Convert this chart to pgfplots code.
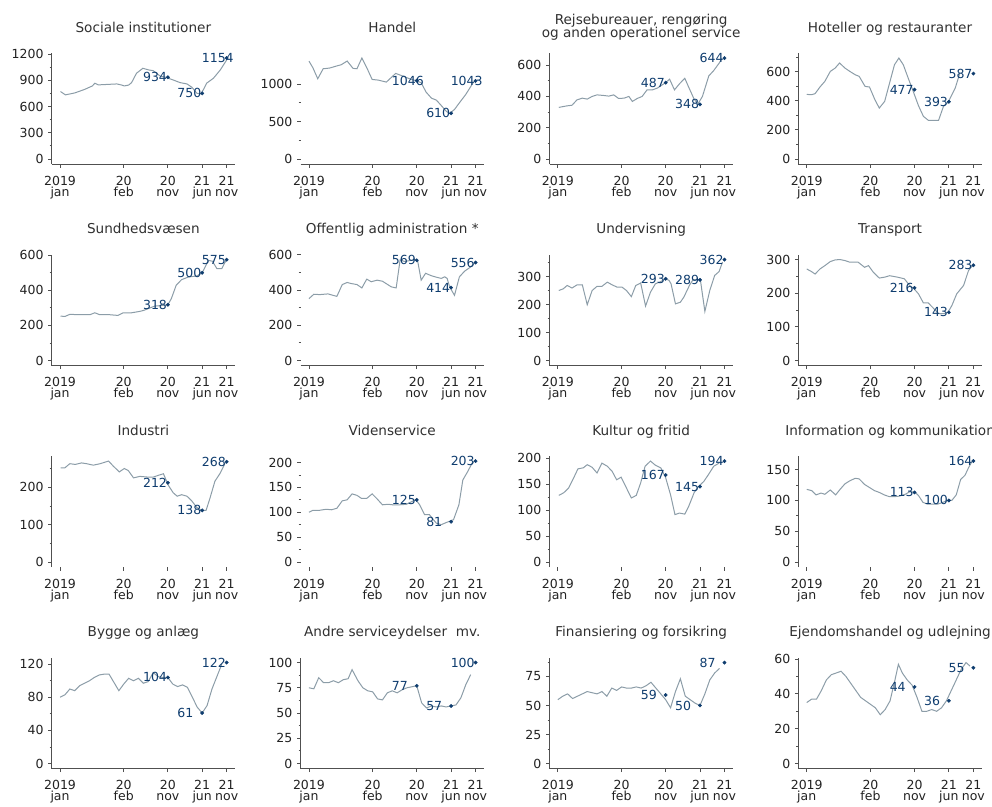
\documentclass[border=0pt]{standalone}
\usepackage{pgfplots}
\pgfplotsset{compat=1.18}
\usepackage{fontspec}
\setmainfont{DejaVu Sans}
\definecolor{linec}{HTML}{8C9DA8}
\definecolor{navy}{HTML}{0E3C6E}
\definecolor{spine}{HTML}{505050}
\definecolor{tickc}{HTML}{222222}
\definecolor{titlec}{HTML}{303030}
\newcommand\tickfont{\fontsize{12.5}{10.8}\selectfont\lineskiplimit=-20pt}
\newcommand\titlefont{\fontsize{13.6}{11}\selectfont\lineskiplimit=-20pt}
\newcommand\annfont{\fontsize{12.5}{14}\selectfont}
\pgfplotsset{
  panel/.style={
    scale only axis, width=183.3pt, height=111pt, anchor=south west,
    xmin=-1.7, xmax=35.7,
    axis x line*=bottom, axis y line*=left,
    axis line style={spine, line width=0.8pt, -},
    xtick={0,13,22,29,34},
    xticklabels={2019\\jan,20\\feb,20\\nov,21\\jun,21\\nov},
    xticklabel style={align=center, font=\tickfont, text=tickc, inner sep=0pt, yshift=-8.5pt},
    yticklabel style={font=\tickfont, text=tickc, inner sep=0pt, xshift=-4.5pt},
    tick align=outside, major tick length=3.5pt, minor tick length=2pt,
    tick style={spine, line width=0.8pt},
    /pgf/number format/assume math mode=true,
    /pgf/number format/1000 sep={},
    clip=false,
  },
  noleft/.style={y axis line style={draw=none}},
  nobottom/.style={x axis line style={draw=none}},
  dataline/.style={linec, line width=1pt},
  marks/.style={only marks, mark=*, mark size=1.7pt, navy,
    point meta=explicit symbolic, nodes near coords,
    every node near coord/.append style={anchor=west, xshift=-25pt, inner sep=0pt, font=\annfont, text=navy}},
}
\newcommand\ptitle[1]{\node[anchor=base, inner sep=0pt, font=\titlefont, text=titlec, yshift=21pt] at (rel axis cs:0.5,1) {#1};}
\begin{document}
\begin{tikzpicture}
\useasboundingbox (0,0) rectangle (992pt,-806pt);
% Row 1
\begin{axis}[panel, at={(51.7pt,-164pt)}, ymin=-57.7, ymax=1211.7, ytick={0,300,600,900,1200}, minor ytick={150,450,750,1050}]
\addplot[dataline] coordinates {(0.1,771)(1.1,733)(3,755)(5,795)(6.6,835)(7.1,866)(7.8,847)(9.5,852)(11.6,858)(12.6,845)(13.1,835)(14.0,845)(14.6,873)(15.6,980)(16.9,1037)(18.1,1018)(19.0,1010)(20.4,949)(21.5,935)(23.1,903)(24.5,873)(25.9,858)(26.9,820)(27.9,752)(28.7,745)(29.3,797)(29.9,866)(31.3,923)(32.7,1018)(34.0,1132)};
\addplot[marks] coordinates {(22,934)[934] (29,750)[750] (34,1154)[1154]};
\ptitle{Sociale institutioner}
\end{axis}
\begin{axis}[panel, noleft, at={(300.6pt,-164pt)}, ymin=-67.4, ymax=1415.4, ytick={0,500,1000}, minor ytick={250,750}]
\addplot[dataline] coordinates {(0,1308)(0.8,1219)(1.8,1071)(2.9,1205)(4.2,1214)(5.6,1241)(6.6,1259)(7.8,1308)(9,1210)(9.8,1205)(10.8,1348)(11.8,1219)(12.9,1062)(14.1,1054)(15.8,1027)(17.7,1143)(18.8,1116)(20.9,1062)(21.9,1046)(22.9,1018)(23.9,893)(25,812)(26,786)(27,714)(28,638)(28.7,607)(29.7,661)(30.7,750)(32,862)(33.5,1018)(33.9,1043)};
\addplot[marks] coordinates {(22,1046)[1046] (29,610)[610] (34,1043)[1043]};
\ptitle{Handel}
\end{axis}
\begin{axis}[panel, at={(549.5pt,-164pt)}, ymin=-32.2, ymax=676.2, ytick={0,200,400,600}, minor ytick={100,300,500}]
\addplot[dataline] coordinates {(0.2,329)(1.2,335)(1.9,339)(2.9,343)(3.9,377)(5,388)(6,382)(7,399)(8,409)(9.4,405)(10.4,401)(11.4,409)(12.4,386)(13.5,388)(14.5,399)(15.2,367)(16.2,386)(17.2,399)(18.2,441)(19.3,441)(20.3,452)(21.3,473)(22,487)(22.8,509)(23.8,441)(24.8,479)(25.9,515)(26.7,458)(27.8,382)(28.6,352)(29.5,399)(30.8,530)(31.8,564)(32.9,611)(33.5,642)};
\addplot[marks] coordinates {(22,487)[487] (29,348)[348] (34,644)[644]};
\node[anchor=base, inner sep=0pt, font=\titlefont, text=titlec, yshift=28.5pt] at (rel axis cs:0.5,1) {Rejsebureauer, rengøring};
\node[anchor=base, inner sep=0pt, font=\titlefont, text=titlec, yshift=15.5pt] at (rel axis cs:0.5,1) {og anden operationel service};
\end{axis}
\begin{axis}[panel, at={(798.4pt,-164pt)}, ymin=-34.7, ymax=728.7, ytick={0,200,400,600}, minor ytick={100,300,500,700}]
\addplot[dataline] coordinates {(0,444)(1,442)(1.7,449)(2.7,495)(3.7,534)(4.8,602)(5.8,625)(6.7,660)(7.8,625)(8.8,602)(9.9,579)(10.7,568)(11.9,499)(12.8,495)(13.9,408)(14.8,350)(15.9,396)(16.9,522)(17.9,648)(18.8,694)(19.7,648)(20.7,556)(21.8,458)(22.8,366)(23.8,293)(24.8,266)(25.9,266)(26.9,266)(27.9,362)(28.9,393)(30.3,488)(31.2,586)};
\addplot[marks] coordinates {(22,477)[477] (29,393)[393] (34,587)[587]};
\ptitle{Hoteller og restauranter}
\end{axis}
% Row 2
\begin{axis}[panel, at={(51.7pt,-365.5pt)}, ymin=-28.8, ymax=604.4, ytick={0,200,400,600}, minor ytick={100,300,500}]
\addplot[dataline] coordinates {(0.1,253)(1,251)(2,263)(4,261)(6.1,261)(7.1,272)(8.1,261)(10.1,261)(11.8,257)(12.9,272)(14.6,272)(16.3,280)(17.1,286)(19.3,310)(21,314)(22,318)(22.7,352)(23.7,429)(24.8,461)(26.2,476)(27.9,482)(29,500)(29.6,533)(30.3,571)(31.1,566)(32,524)(33,524)(33.5,552)(34,575)};
\addplot[marks] coordinates {(22,318)[318] (29,500)[500] (34,575)[575]};
\ptitle{Sundhedsvæsen}
\end{axis}
\begin{axis}[panel, noleft, at={(300.6pt,-365.5pt)}, ymin=-28.6, ymax=601.7, ytick={0,200,400,600}, minor ytick={100,300,500}]
\addplot[dataline] coordinates {(0,351)(1,376)(2.2,374)(3.9,378)(4.9,370)(5.7,364)(6.8,431)(7.8,443)(8.6,437)(9.8,431)(10.8,412)(11.8,462)(12.7,447)(13.9,456)(15,450)(16.8,418)(17.8,412)(18.6,571)(19.5,562)(21.8,573)(22.2,562)(22.9,456)(23.8,495)(25,481)(26,473)(27,466)(27.7,475)(28.2,466)(28.7,418)(29.7,370)(30.7,475)(31.8,508)(32.8,527)(33.9,556)};
\addplot[marks] coordinates {(22,569)[569] (29,414)[414] (34,556)[556]};
\ptitle{Offentlig administration *}
\end{axis}
\begin{axis}[panel, at={(549.5pt,-365.5pt)}, ymin=-18.1, ymax=380.1, ytick={0,100,200,300}, minor ytick={50,150,250,350}]
\addplot[dataline] coordinates {(0.2,251)(1.1,257)(1.9,269)(2.9,260)(3.9,271)(5,271)(6,200)(7,251)(8,266)(9,266)(10.1,281)(11.1,271)(12.1,263)(13.1,263)(14,251)(15,229)(15.9,269)(16.9,278)(17.9,195)(18.9,245)(19.9,275)(21,283)(22,293)(22.7,287)(23.1,275)(24,203)(25,209)(25.7,227)(26.9,271)(27.6,290)(28.9,290)(29.1,287)(30,176)(31,251)(32,305)(32.9,319)(33.6,353)};
\addplot[marks] coordinates {(22,293)[293] (29,289)[289] (34,362)[362]};
\ptitle{Undervisning}
\end{axis}
\begin{axis}[panel, at={(798.4pt,-365.5pt)}, ymin=-15, ymax=315, ytick={0,100,200,300}, minor ytick={50,150,250}]
\addplot[dataline] coordinates {(0,272)(1,264)(1.7,257)(2.7,272)(3.7,282)(4.8,294)(5.8,299)(6.8,300)(7.8,297)(8.8,292)(10.5,292)(11.8,277)(12.6,282)(13.6,262)(14.8,245)(16,248)(16.9,252)(18.4,248)(19.9,243)(21,223)(21.9,213)(22.8,198)(23.8,171)(24.8,171)(26,153)(26.9,139)(27.9,139)(28.8,143)(29.6,163)(30.6,198)(32,223)(33,267)(33.8,282)};
\addplot[marks] coordinates {(22,216)[216] (29,143)[143] (34,283)[283]};
\ptitle{Transport}
\end{axis}
% Row 3
\begin{axis}[panel, nobottom, at={(51.7pt,-567pt)}, ymin=-13.5, ymax=283.5, ytick={0,100,200}, minor ytick={50,150,250}]
\addplot[dataline] coordinates {(0.1,252)(1,252)(2,263)(3.1,261)(4.4,265)(5.4,263)(6.8,259)(8.2,263)(9.9,270)(10.9,256)(12.1,241)(13.1,250)(13.9,245)(15,225)(16.3,229)(18,227)(19,227)(20.1,232)(21.1,236)(22.1,205)(23.1,185)(23.9,176)(24.8,180)(25.9,176)(26.9,163)(27.9,146)(28.9,138)(29.8,138)(30.6,171)(31.6,216)(32.7,238)(33.7,265)};
\addplot[marks] coordinates {(22,212)[212] (29,138)[138] (34,268)[268]};
\ptitle{Industri}
\end{axis}
\begin{axis}[panel, noleft, nobottom, at={(300.6pt,-567pt)}, ymin=-10.2, ymax=213.2, ytick={0,50,100,150,200}, minor ytick={25,75,125,175}]
\addplot[dataline] coordinates {(0,100)(0.8,104)(2.2,104)(3.5,106)(4.6,105)(5.7,108)(6.8,123)(7.8,125)(8.8,137)(9.8,134)(10.7,128)(11.8,128)(12.9,137)(13.9,127)(15,115)(16.1,116)(17.1,115)(18.5,115)(19.9,116)(21.1,122)(21.8,125)(22.6,115)(23.6,95)(24.6,95)(25.4,85)(26,78)(27,75)(27.7,78)(28.7,82)(29.5,85)(30.6,115)(31.4,165)(32.4,182)(33.3,199)(33.8,203)};
\addplot[marks] coordinates {(22,125)[125] (29,81)[81] (34,203)[203]};
\ptitle{Videnservice}
\end{axis}
\begin{axis}[panel, nobottom, at={(549.5pt,-567pt)}, ymin=-9.7, ymax=203.7, ytick={0,50,100,150,200}, minor ytick={25,75,125,175}]
\addplot[dataline] coordinates {(0.2,128)(1.2,133)(2.2,142)(3.3,163)(4.1,179)(5.2,181)(6,187)(7,182)(8,171)(9,190)(10.1,184)(11.1,174)(12,158)(12.9,163)(13.8,146)(15,123)(16,128)(16.9,152)(17.8,184)(18.9,194)(19.9,186)(21,181)(22,162)(23,129)(23.9,91)(24.8,94)(25.9,92)(26.7,107)(27.8,133)(28.6,144)(29.8,155)(30.8,169)(31.8,184)(32.9,190)};
\addplot[marks] coordinates {(22,167)[167] (29,145)[145] (34,194)[194]};
\ptitle{Kultur og fritid}
\end{axis}
\begin{axis}[panel, nobottom, at={(798.4pt,-567pt)}, ymin=-8.2, ymax=172.2, ytick={0,50,100,150}, minor ytick={25,75,125}]
\addplot[dataline] coordinates {(0,118)(1,116)(1.9,109)(2.9,112)(3.7,110)(4.8,117)(5.9,109)(6.8,118)(7.8,127)(8.8,132)(9.9,136)(10.7,135)(11.8,126)(12.8,121)(13.8,116)(14.8,113)(15.8,109)(16.9,106)(17.8,106)(18.9,107)(20.1,110)(21,114)(22,114)(22.8,108)(23.7,97)(24.6,94)(25.7,94)(26.7,94)(27.8,97)(29,101)(29.6,100)(30.5,109)(31.4,134)(32.3,141)(33,153)(33.7,163)};
\addplot[marks] coordinates {(22,113)[113] (29,100)[100] (34,164)[164]};
\ptitle{Information og kommunikation}
\end{axis}
% Row 4
\begin{axis}[panel, at={(51.7pt,-768.5pt)}, ymin=-6.1, ymax=128.1, ytick={0,40,80,120}, minor ytick={20,60,100}]
\addplot[dataline] coordinates {(0,80)(1,83)(2,90)(3,88)(4,94)(5,97)(6,100)(7,104)(8,107)(9,108)(10,108)(11,98)(12,88)(13,96)(14,103)(15,100)(16,103)(17,97)(18,99)(19,110)(20,105)(21,104)(22,104)(23,96)(24,93)(25,95)(26,92)(27,80)(28,68)(29,61)(30,70)(31,90)(32,105)(33,120)};
\addplot[marks] coordinates {(22,104)[104] (29,61)[61] (34,122)[122]};
\ptitle{Bygge og anlæg}
\end{axis}
\begin{axis}[panel, at={(300.6pt,-768.5pt)}, ymin=-5, ymax=105, ytick={0,25,50,75,100}, minor ytick={12.5,37.5,62.5,87.5}]
\addplot[dataline] coordinates {(0,75)(1,74)(2,85)(3,80)(4,80)(5,82)(6,80)(7,83)(8,84)(8.8,93)(10,82)(11,75)(12,72)(13,71)(14,64)(15,63)(16,70)(17,72)(18,70)(19,73)(20,75)(21,76)(22,77)(23,60)(24,55)(25,57)(26,56)(27,57)(28,56)(29,57)(30,58)(31,65)(32,78)(33,88)};
\addplot[marks] coordinates {(22,77)[77] (29,57)[57] (34,100)[100]};
\ptitle{Andre serviceydelser\ \ mv.}
\end{axis}
\begin{axis}[panel, at={(549.5pt,-768.5pt)}, ymin=-4.35, ymax=91.35, ytick={0,25,50,75}, minor ytick={12.5,37.5,62.5,87.5}]
\addplot[dataline] coordinates {(0,55)(1,58)(2,60)(3,56)(4,58)(5,60)(6,62)(7,61)(8,60)(9,62)(10,58)(11,65)(12,63)(13,66)(14,65)(15,65)(16,66)(17,65)(18,67)(19,70)(20,65)(21,60)(22,55)(23,48)(24,62)(25,73)(26,58)(27,55)(28,52)(29,50)(30,60)(31,72)(32,78)(33,82)};
\addplot[marks] coordinates {(22,59)[59] (29,50)[50] (34,87)[87]};
\ptitle{Finansiering og forsikring}
\end{axis}
\begin{axis}[panel, at={(798.4pt,-768.5pt)}, ymin=-2.9, ymax=60.9, ytick={0,20,40,60}, minor ytick={10,30,50}]
\addplot[dataline] coordinates {(0,35)(1,37)(2,37)(3,42)(4,48)(5,51)(6,52)(7,53)(8,50)(9,46)(10,42)(11,38)(12,36)(13,34)(14,32)(15,28)(16,31)(17,36)(18,48)(18.7,57)(19.5,52)(20.5,48)(21.5,45)(22.5,38)(23.5,30)(24.5,30)(25.5,31)(26.5,30)(27.5,32)(28.5,36)(29.5,42)(30.5,48)(31.5,54)(32.5,58)(33.3,56)};
\addplot[marks] coordinates {(22,44)[44] (29,36)[36] (34,55)[55]};
\ptitle{Ejendomshandel og udlejning}
\end{axis}
\end{tikzpicture}
\end{document}
